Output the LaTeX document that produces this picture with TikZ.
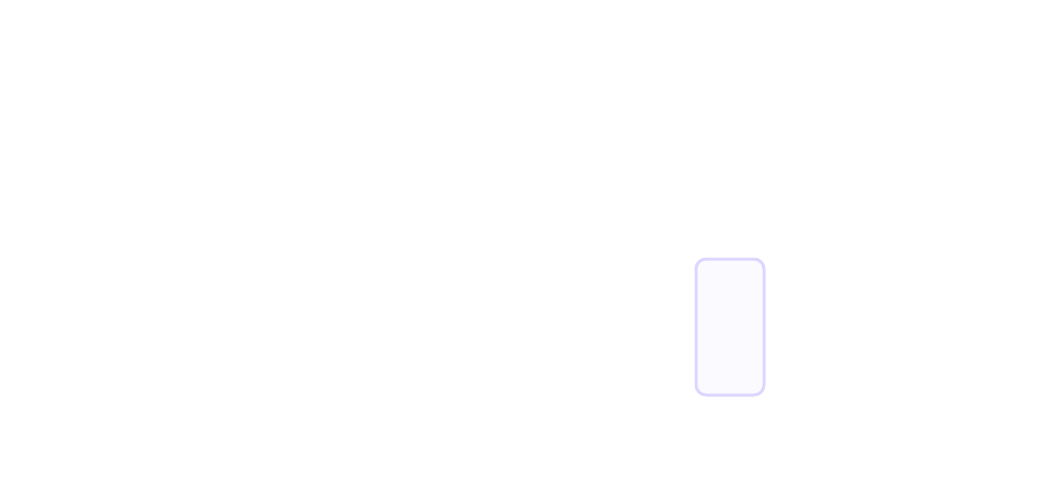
\documentclass[tikz,border=0pt]{standalone}
\definecolor{boxline}{RGB}{221,214,254}
\definecolor{boxfill}{RGB}{250,250,255}
\tikzset{panel/.style={draw=boxline,fill=boxfill,line width=3pt,rounded corners=10pt,
  minimum width=68pt,minimum height=136pt,inner sep=0pt}}
\begin{document}
\begin{tikzpicture}[x=1pt,y=-1pt]
\useasboundingbox (0,0) rectangle (1056,493);
\node[panel] (card) at (730,327) {};
\end{tikzpicture}
\end{document}
